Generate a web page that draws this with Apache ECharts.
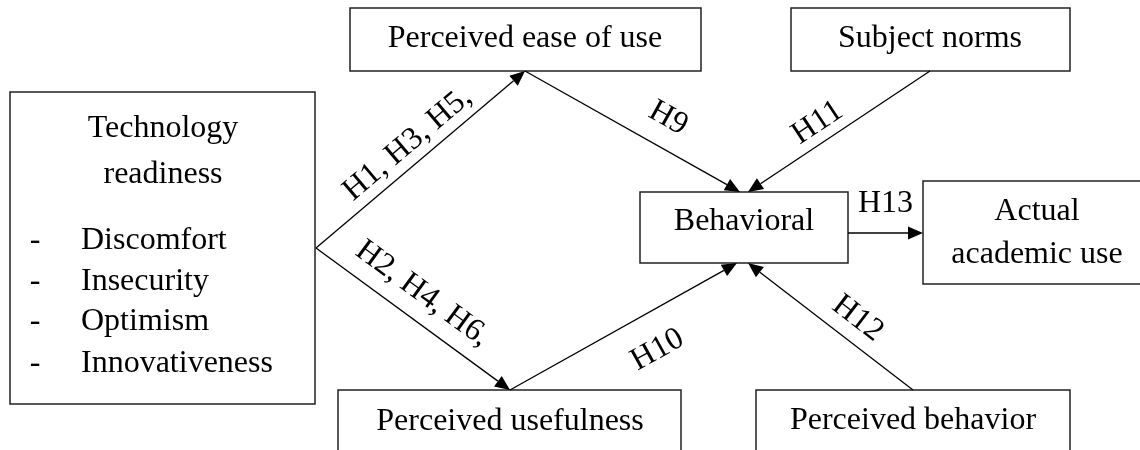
<!DOCTYPE html>
<html>
<head>
<meta charset="utf-8">
<script src="https://cdn.jsdelivr.net/npm/echarts@6/dist/echarts.min.js"></script>
<style>
  html, body { margin: 0; padding: 0; background: #fff; }
  #main { width: 1140px; height: 450px; }
</style>
</head>
<body>
<div id="main"></div>
<script>
// boxes of the research model
const boxNames = ['Technology\nreadiness', 'Perceived ease of use', 'Subject norms', 'Behavioral',
  'Actual\nacademic use', 'Perceived usefulness', 'Perceived behavior'];
const readinessFactors = ['Discomfort', 'Insecurity', 'Optimism', 'Innovativeness'];
// hypotheses written on the arrows
const hypotheses = ['H1, H3, H5,', 'H2, H4, H6,', 'H9', 'H11', 'H10', 'H12', 'H13'];

// layout in pixel units of the hidden axes
const boxRects = [
  [10, 92, 315, 404], [350, 8, 701, 71], [791, 8, 1070, 71], [640, 192, 848, 263],
  [923, 181, 1152, 284], [338, 390, 681, 470], [756, 390, 1070, 470]
];
const boxTextAt = [ // centre x, centre y, line height
  [163, 152, 46], [525, 39, 0], [930, 39, 0], [744, 222, 0],
  [1037, 233, 43], [510, 422, 0], [913, 421, 0]
];
const factorRows = [241, 282, 322, 364];
const arrowEnds = [
  [[316, 248], [525, 71]], [[316, 248], [510, 390]], [[525, 71], [740, 192]],
  [[930, 71], [748, 192]], [[510, 390], [737, 263]], [[913, 390], [748, 263]],
  [[848, 233], [923, 233]]
];
const labelPlace = [ // share along the arrow, distance from it (+ above)
  [0.5, 20], [0.47, 26], [0.6, 29], [0.56, 19], [0.57, -37], [0.42, 23], [0.5, 29]
];

const FONT = 'Liberation Serif, Times New Roman, serif';
const chart = echarts.init(document.getElementById('main'));

chart.setOption({
  animation: false,
  grid: { left: 0, right: 0, top: 0, bottom: 0 },
  xAxis: { type: 'value', min: 0, max: 1140, show: false },
  yAxis: { type: 'value', min: 0, max: 450, inverse: true, show: false },
  series: [
    {
      type: 'custom',
      clip: false,
      data: boxNames.map((n, i) => [i]),
      renderItem: function (params, api) {
        const i = params.dataIndex;
        const r = boxRects[i];
        const p0 = api.coord([r[0], r[1]]);
        const p1 = api.coord([r[2], r[3]]);
        const t = boxTextAt[i];
        const c = api.coord([t[0], t[1]]);
        return {
          type: 'group',
          children: [
            {
              type: 'rect',
              shape: { x: p0[0], y: p0[1], width: p1[0] - p0[0], height: p1[1] - p0[1] },
              style: { fill: '#fff', stroke: '#222', lineWidth: 1.5 }
            },
            {
              type: 'text',
              x: c[0], y: c[1],
              style: {
                text: boxNames[i], align: 'center', verticalAlign: 'middle',
                fontFamily: FONT, fontSize: 32, lineHeight: t[2] || 36, fill: '#000'
              }
            }
          ]
        };
      }
    },
    {
      type: 'custom',
      clip: false,
      data: readinessFactors.map((n, i) => [i]),
      renderItem: function (params, api) {
        const i = params.dataIndex;
        const d = api.coord([35, factorRows[i]]);
        const w = api.coord([81, factorRows[i]]);
        const st = { fontFamily: FONT, fontSize: 32, fill: '#000', verticalAlign: 'middle' };
        return {
          type: 'group',
          children: [
            { type: 'text', x: d[0], y: d[1], style: Object.assign({ text: '-', align: 'center' }, st) },
            { type: 'text', x: w[0], y: w[1], style: Object.assign({ text: readinessFactors[i], align: 'left' }, st) }
          ]
        };
      }
    },
    {
      type: 'custom',
      clip: false,
      data: hypotheses.map((n, i) => [i]),
      renderItem: function (params, api) {
        const i = params.dataIndex;
        const a = api.coord(arrowEnds[i][0]);
        const b = api.coord(arrowEnds[i][1]);
        const dx = b[0] - a[0], dy = b[1] - a[1];
        const len = Math.hypot(dx, dy);
        const ux = dx / len, uy = dy / len;
        const head = 15, half = 6.5;
        const base = [b[0] - ux * head, b[1] - uy * head];
        // label reads left to right, sits on its side of the arrow
        let tx = ux, ty = uy;
        if (tx < 0) { tx = -tx; ty = -ty; }
        const nx = ty, ny = -tx;
        const pl = labelPlace[i];
        const lx = a[0] + dx * pl[0] + nx * pl[1];
        const ly = a[1] + dy * pl[0] + ny * pl[1];
        return {
          type: 'group',
          children: [
            {
              type: 'line',
              shape: { x1: a[0], y1: a[1], x2: base[0], y2: base[1] },
              style: { stroke: '#000', lineWidth: 1.3 }
            },
            {
              type: 'polygon',
              shape: {
                points: [
                  [b[0], b[1]],
                  [base[0] - uy * half, base[1] + ux * half],
                  [base[0] + uy * half, base[1] - ux * half]
                ]
              },
              style: { fill: '#000' }
            },
            {
              type: 'text',
              x: lx, y: ly,
              rotation: -Math.atan2(ty, tx),
              style: {
                text: hypotheses[i], align: 'center', verticalAlign: 'middle',
                fontFamily: FONT, fontSize: 32, fill: '#000'
              }
            }
          ]
        };
      }
    }
  ]
});
</script>
</body>
</html>
